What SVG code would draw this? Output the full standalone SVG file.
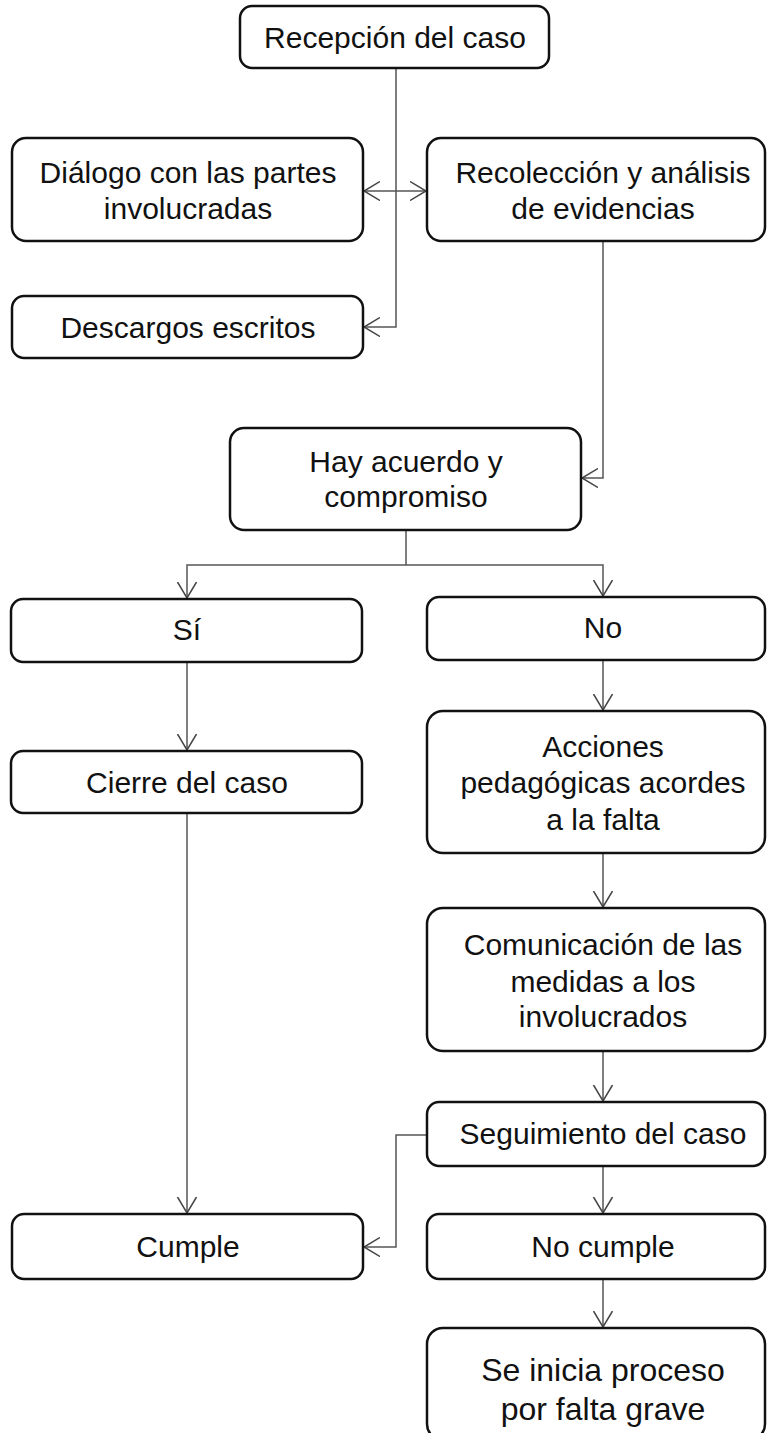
<svg xmlns="http://www.w3.org/2000/svg" width="767" height="1433" viewBox="0 0 767 1433">
<style>
.box{fill:#fff;stroke:#111;stroke-width:2.5}
.t{font-family:"Liberation Sans",Arial,sans-serif;font-size:30px;fill:#111;text-anchor:middle}
.t2{font-size:32px}
.c{fill:none;stroke:#555;stroke-width:1.5}
.a{marker-end:url(#arr)}
.d{marker-start:url(#arr);marker-end:url(#arr)}
</style>
<defs>
<marker id="arr" viewBox="0 0 17 20" refX="16" refY="10" markerWidth="17" markerHeight="20" markerUnits="userSpaceOnUse" orient="auto-start-reverse">
<path d="M0,0.5 L16,10 L0,19.5" fill="none" stroke="#444" stroke-width="1.5"/>
</marker>
</defs>
<rect width="767" height="1433" fill="#fff"/>
<g id="connectors">
<path class="c a" d="M396,68 V327 H364"/>
<path class="c d" d="M364,191 H426"/>
<path class="c a" d="M603,241 V478 H582"/>
<path class="c" d="M406,530 V565"/>
<path class="c a" d="M406,565 H187 V598"/>
<path class="c a" d="M406,565 H603 V596"/>
<path class="c a" d="M187,662 V750"/>
<path class="c a" d="M187,813 V1213"/>
<path class="c a" d="M603,660 V710"/>
<path class="c a" d="M603,853 V907"/>
<path class="c a" d="M603,1051 V1101"/>
<path class="c a" d="M427,1135 H396 V1247 H364"/>
<path class="c a" d="M603,1166 V1213"/>
<path class="c a" d="M603,1279 V1327"/>
</g>
<g id="n1"><rect class="box" x="240" y="6" width="309" height="62" rx="12"/><text class="t" x="395" y="48">Recepción del caso</text></g>
<g id="n2"><rect class="box" x="12" y="138" width="351" height="103" rx="14"/><text class="t" x="188" y="183">Diálogo con las partes</text><text class="t" x="188" y="219">involucradas</text></g>
<g id="n3"><rect class="box" x="427" y="138" width="338" height="103" rx="14"/><text class="t" x="603" y="183">Recolección y análisis</text><text class="t" x="603" y="219">de evidencias</text></g>
<g id="n4"><rect class="box" x="12" y="296" width="351" height="62" rx="12"/><text class="t" x="188" y="338">Descargos escritos</text></g>
<g id="n5"><rect class="box" x="230" y="428" width="351" height="102" rx="14"/><text class="t" x="406" y="472">Hay acuerdo y</text><text class="t" x="406" y="507">compromiso</text></g>
<g id="n6"><rect class="box" x="11" y="599" width="351" height="63" rx="12"/><text class="t" x="187" y="640">Sí</text></g>
<g id="n7"><rect class="box" x="427" y="597" width="338" height="63" rx="12"/><text class="t" x="603" y="638">No</text></g>
<g id="n8"><rect class="box" x="11" y="751" width="351" height="62" rx="12"/><text class="t" x="187" y="793">Cierre del caso</text></g>
<g id="n9"><rect class="box" x="427" y="711" width="338" height="142" rx="16"/><text class="t" x="603" y="757">Acciones</text><text class="t" x="603" y="793">pedagógicas acordes</text><text class="t" x="603" y="830">a la falta</text></g>
<g id="n10"><rect class="box" x="427" y="908" width="338" height="143" rx="16"/><text class="t" x="603" y="955">Comunicación de las</text><text class="t" x="603" y="992">medidas a los</text><text class="t" x="603" y="1027">involucrados</text></g>
<g id="n11"><rect class="box" x="427" y="1102" width="338" height="64" rx="12"/><text class="t" x="603" y="1144">Seguimiento del caso</text></g>
<g id="n12"><rect class="box" x="12" y="1214" width="351" height="65" rx="12"/><text class="t" x="188" y="1257">Cumple</text></g>
<g id="n13"><rect class="box" x="427" y="1214" width="338" height="65" rx="12"/><text class="t" x="603" y="1257">No cumple</text></g>
<g id="n14"><rect class="box" x="427" y="1328" width="338" height="112" rx="16"/><text class="t t2" x="603" y="1381">Se inicia proceso</text><text class="t t2" x="603" y="1420">por falta grave</text></g>
</svg>
